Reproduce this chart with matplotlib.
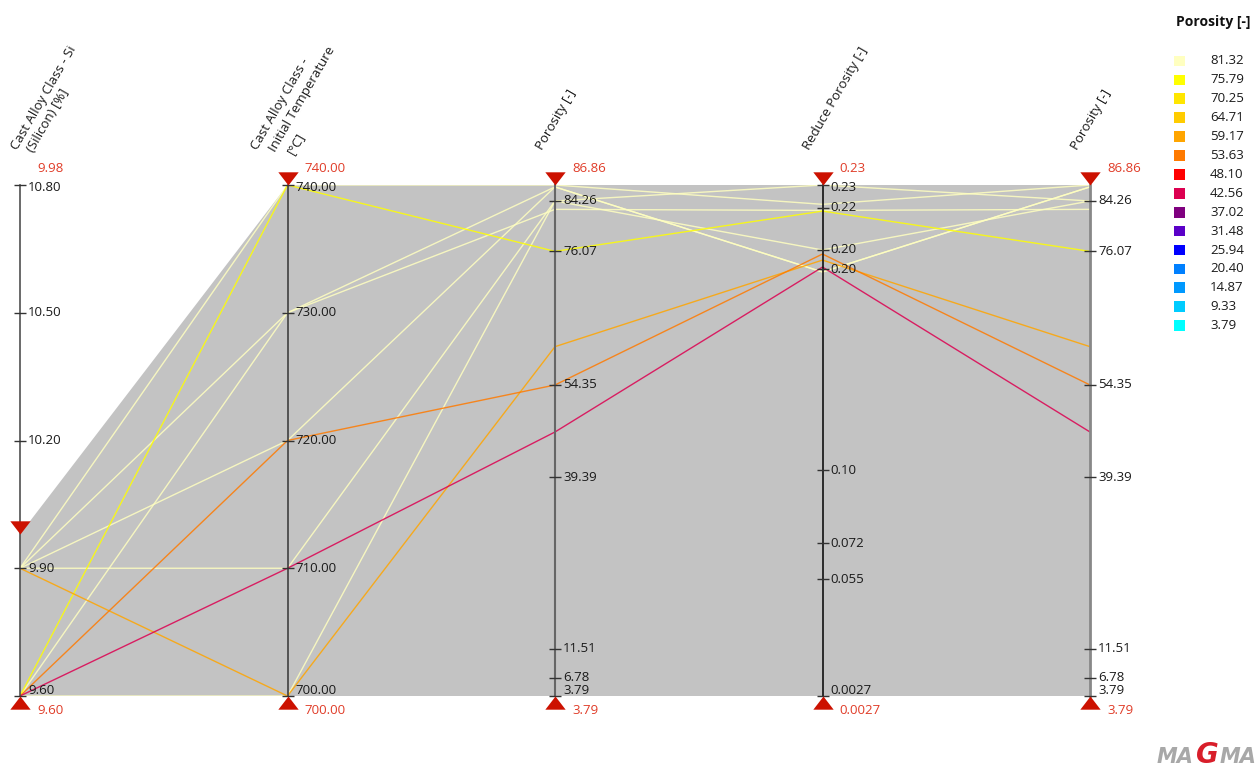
import matplotlib
matplotlib.use('Agg')
import matplotlib.pyplot as plt
from matplotlib.transforms import offset_copy

plt.rcParams['font.family'] = ['Open Sans', 'DejaVu Sans']

# parallel axes
axis_titles = [['Cast Alloy Class - Si', '(Silicon) [%]'],
               ['Cast Alloy Class -', 'Initial Temperature', '[°C]'],
               ['Porosity [-]'], ['Reduce Porosity [-]'], ['Porosity [-]']]
axis_lo = [9.60, 700.0, 3.79, 0.0027, 3.79]
axis_hi = [10.80, 740.0, 86.86, 0.23, 86.86]

# filter ranges (red triangles)
filter_lo = [9.60, 700.0, 3.79, 0.0027, 3.79]
filter_hi = [9.98, 740.0, 86.86, 0.23, 86.86]
filter_lo_txt = ['9.60', '700.00', '3.79', '0.0027', '3.79']
filter_hi_txt = ['9.98', '740.00', '86.86', '0.23', '86.86']

tick_vals = [
    [10.80, 10.50, 10.20, 9.90, 9.60],
    [740, 730, 720, 710, 700],
    [84.26, 76.07, 54.35, 39.39, 11.51, 6.78, 3.79],
    [0.23, 0.2198, 0.2011, 0.1925, 0.1032, 0.0706, 0.0546, 0.0027],
    [84.26, 76.07, 54.35, 39.39, 11.51, 6.78, 3.79],
]
tick_txt = [
    ['10.80', '10.50', '10.20', '9.90', '9.60'],
    ['740.00', '730.00', '720.00', '710.00', '700.00'],
    ['84.26', '76.07', '54.35', '39.39', '11.51', '6.78', '3.79'],
    ['0.23', '0.22', '0.20', '0.20', '0.10', '0.072', '0.055', '0.0027'],
    ['84.26', '76.07', '54.35', '39.39', '11.51', '6.78', '3.79'],
]

# designs
si = [9.90, 9.90, 9.60, 9.90, 9.90, 9.60, 9.60, 9.60, 9.90, 9.60]
temp = [740, 730, 730, 720, 710, 700, 740, 720, 700, 710]
poro = [86.86, 86.55, 82.90, 86.55, 84.26, 84.26, 76.07, 54.35, 60.58, 46.71]
red_poro = [0.2214, 0.1913, 0.2187, 0.1913, 0.2300, 0.2011, 0.2184, 0.1993, 0.1966, 0.1935]

# colour legend
legend_vals = [81.32, 75.79, 70.25, 64.71, 59.17, 53.63, 48.10, 42.56,
               37.02, 31.48, 25.94, 20.40, 14.87, 9.33, 3.79]
legend_cols = ['#FFFFC0', '#FFFF00', '#FFE600', '#FFCC00', '#FFA500',
               '#FF7A00', '#FF0000', '#DC0050', '#7F007F', '#5A00C8',
               '#0000FF', '#0080FF', '#0099FF', '#00CCFF', '#00FFFF']

RED = '#CC1100'
RED_TXT = '#E03C28'


def norm(v, k):
    return (v - axis_lo[k]) / (axis_hi[k] - axis_lo[k])


def colour_for(p):
    for v, c in zip(legend_vals, legend_cols):
        if p >= v:
            return c
    return legend_cols[-1]


W, H = 1258, 767
fig = plt.figure(figsize=(W / 100, H / 100), dpi=100)
ax = fig.add_axes([20 / W, 71 / H, 1070 / W, 511 / H])
ax.set_xlim(0, 4)
ax.set_ylim(0, 1)
ax.axis('off')

n_ax = len(axis_lo)
xs = list(range(n_ax))

# filtered region
top = [norm(filter_hi[k], k) for k in xs]
bot = [norm(filter_lo[k], k) for k in xs]
ax.fill(xs + xs[::-1], top + bot[::-1], color='#C3C3C3', lw=0, zorder=1)

# design lines
designs = list(zip(si, temp, poro, red_poro, poro))
order = sorted(range(len(designs)), key=lambda j: -poro[j])
for j in order:
    d = designs[j]
    ax.plot(xs, [norm(d[k], k) for k in xs], color=colour_for(poro[j]),
            lw=1.0, alpha=0.85, zorder=2, solid_joinstyle='miter')

axis_cols = ['#505050', '#404040', '#666666', '#111111', '#888888']
axis_lw = [1.2, 1.2, 1.5, 1.2, 2.0]
down_tri = [(0, 0), (-0.77, 1), (0.77, 1), (0, 0)]
up_tri = [(0, 0), (-0.77, -1), (0.77, -1), (0, 0)]

tr_lab = offset_copy(ax.transData, fig, x=8, y=0, units='dots')
tr_top = offset_copy(ax.transData, fig, x=17, y=17, units='dots')
tr_bot = offset_copy(ax.transData, fig, x=17, y=-15, units='dots')
head_dx = [-6, -33, -16, -16, -16]
head_step = [16, 18, 0, 0, 0]

for k in xs:
    ax.plot([k, k], [0, 1], color=axis_cols[k], lw=axis_lw[k], zorder=3,
            clip_on=False)
    yn = [norm(v, k) for v in tick_vals[k]]
    ax.plot([k] * len(yn), yn, ls='none', marker='_', ms=9, mew=1.0,
            color='#333333', zorder=4, clip_on=False)
    for y, t in zip(yn, tick_txt[k]):
        y = min(max(y, 0.0117), 0.996)
        ax.text(k, y, t, transform=tr_lab, va='center', ha='left',
                fontsize=9.5, color='#1a1a1a', zorder=6)

    # filter markers
    ax.plot(k, norm(filter_hi[k], k), marker=down_tri, ms=19, color=RED,
            mew=0, zorder=5, clip_on=False)
    ax.plot(k, norm(filter_lo[k], k), marker=up_tri, ms=19, color=RED,
            mew=0, zorder=5, clip_on=False)
    ax.text(k, 1, filter_hi_txt[k], transform=tr_top, va='center',
            ha='left', fontsize=9.5, color=RED_TXT)
    ax.text(k, 0, filter_lo_txt[k], transform=tr_bot, va='center',
            ha='left', fontsize=9.5, color=RED_TXT)

    # rotated headers, one text per line
    for n, line in enumerate(axis_titles[k]):
        tr_head = offset_copy(ax.transData, fig,
                              x=head_dx[k] + n * head_step[k], y=36 - 2 * n,
                              units='dots')
        ax.text(k, 1, line, transform=tr_head, rotation=60,
                rotation_mode='anchor', ha='left', va='center',
                fontsize=9.5, color='#1a1a1a')

# overlay in pixel units for legend and logo
ov = fig.add_axes([0, 0, 1, 1])
ov.set_xlim(0, W)
ov.set_ylim(H, 0)
ov.axis('off')
ov.patch.set_alpha(0)

ov.text(1176, 22, 'Porosity [-]', fontsize=10, fontweight='bold',
        va='center', ha='left', color='#111111')
rows = [61 + i * 18.9 for i in range(len(legend_vals))]
ov.scatter([1179.5] * len(rows), rows, marker='s', s=60, c=legend_cols,
           linewidths=0)
for y, v in zip(rows, legend_vals):
    ov.text(1210, y, '%.2f' % v, fontsize=9.5, va='center', ha='left',
            color='#1a1a1a')

# logo
ov.text(1157, 763, 'MA', fontsize=15, fontweight='bold', fontstyle='italic',
        color='#A8A8A8', ha='left', va='baseline', family='DejaVu Sans')
ov.text(1196, 763, 'G', fontsize=20, fontweight='bold', fontstyle='italic',
        color='#D81E2A', ha='left', va='baseline', family='DejaVu Sans')
ov.text(1220, 763, 'MA', fontsize=15, fontweight='bold', fontstyle='italic',
        color='#A8A8A8', ha='left', va='baseline', family='DejaVu Sans')

fig.savefig('out.png', dpi=100)
